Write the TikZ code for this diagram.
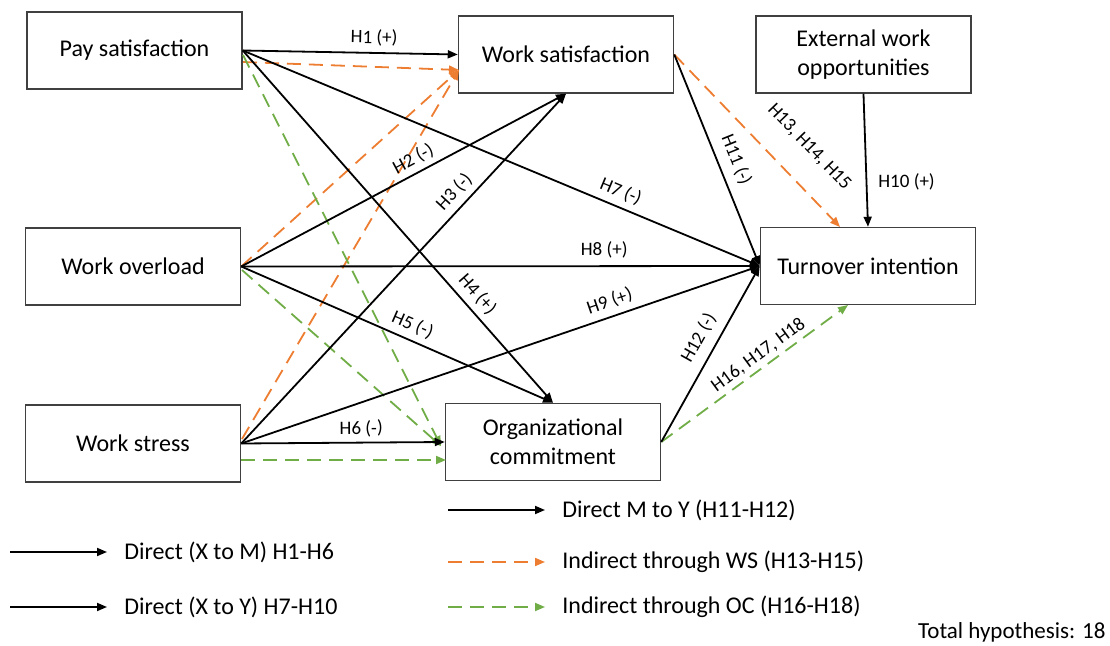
\documentclass[tikz,border=0pt]{standalone}
\usepackage{fontspec}
\setmainfont{Carlito}
\usepackage{xcolor}
\usetikzlibrary{arrows.meta}
\definecolor{wsorange}{RGB}{237,125,49}
\definecolor{ocgreen}{RGB}{112,173,71}
\tikzset{
  var/.style={draw=black!75, line width=0.75pt, minimum width=107.5pt, minimum height=38.5pt,
    align=center, font=\fontsize{12}{14.5}\selectfont},
  direct/.style={line width=0.9pt, -{Triangle[length=5pt,width=4pt]}},
  viaws/.style={wsorange, line width=0.9pt, dash pattern=on 7pt off 4pt, -{Triangle[length=5pt,width=4pt]}},
  viaoc/.style={ocgreen, line width=0.9pt, dash pattern=on 7pt off 4pt, -{Triangle[length=5pt,width=4pt]}},
  hyp/.style={font=\fontsize{9.5}{11}\selectfont, sloped, inner sep=1.5pt, text=black},
  legtext/.style={anchor=west, inner xsep=8.5pt, font=\fontsize{12}{14}\selectfont}
}
\begin{document}
\begin{tikzpicture}[x=0.5pt,y=-0.5pt]
            \useasboundingbox (0,0) rectangle (1110,646);
            \node[var] (pay) at (134.500, 50.500) {Pay satisfaction};
            \node[var] (wo) at (133.000, 266.500) {Work overload};
            \node[var] (stress) at (133.000, 443.500) {Work stress};
            \node[var] (wsat) at (566.000, 54.500) {Work satisfaction};
            \node[var] (oc) at (553.000, 442.000) {Organizational\\commitment};
            \node[var] (ext) at (863.500, 54.500) {External work\\opportunities};
            \node[var] (ti) at (868.000, 266.000) {Turnover intention};

            \coordinate (pay_o) at (243.000, 62.000);
            \coordinate (pay_g) at (243.000, 55.000);
            \coordinate (wo_g) at (242.000, 270.000);
            \coordinate (stress_o) at (242.000, 439.000);
            \coordinate (stress_g) at (241.000, 460.000);
            \coordinate (wsat_o) at (459.000, 70.000);
            \coordinate (oc_g) at (441.000, 446.000);
            \coordinate (oc_gh) at (446.000, 460.000);
            \coordinate (ti_o) at (840.000, 227.000);
            \coordinate (ti_g) at (848.000, 305.000);

            \draw[viaws] (pay_o) -- (wsat_o);
            \draw[viaws] (wo.east) -- (wsat_o);
            \draw[viaws] (stress_o) -- (wsat_o);
            \draw[viaws] (wsat.east) -- node[hyp, above=11pt, pos=0.67] {H13, H14, H15} (ti_o);
            \draw[viaoc] (pay_g) -- (oc_g);
            \draw[viaoc] (wo_g) -- (oc_g);
            \draw[viaoc] (stress_g) -- (oc_gh);
            \draw[viaoc] (oc.east) -- node[hyp, above=0.5pt, pos=0.56] {H16, H17, H18} (ti_g);

            \draw[direct] (pay.east) -- node[hyp, above=1.5pt, pos=0.61] {H1 (+)} (wsat.west);
            \draw[direct] (pay.east) -- node[hyp, above=1.5pt, pos=0.72] {H7 (-)} (ti.west);
            \draw[direct] (pay.east) -- node[hyp, above=1.5pt, pos=0.72] {H4 (+)} (oc.north);
            \draw[direct] (wo.east) -- node[hyp, above=1pt, pos=0.55] {H2 (-)} (wsat.south);
            \draw[direct] (wo.east) -- node[hyp, above=2pt, pos=0.70] {H8 (+)} (ti.west);
            \draw[direct] (wo.east) -- node[hyp, above=1.5pt, pos=0.53] {H5 (-)} (oc.north);
            \draw[direct] (stress.east) -- node[hyp, above=1.5pt, pos=0.69] {H3 (-)} (wsat.south);
            \draw[direct] (stress.east) -- node[hyp, above=1.5pt, pos=0.72] {H9 (+)} (ti.west);
            \draw[direct] (stress.east) -- node[hyp, above=1pt, pos=0.59] {H6 (-)} (oc.west);
            \draw[direct] (wsat.east) -- node[hyp, above=3pt, pos=0.53] {H11 (-)} (ti.west);
            \draw[direct] (ext.south) -- node[hyp, sloped=false, right=4pt, pos=0.66] {H10 (+)} (ti.north);
            \draw[direct] (oc.east) -- node[hyp, above=3pt, pos=0.54] {H12 (-)} (ti.west);

            \node[legtext] (leg_my) at (545.000, 510.000) {Direct M to Y (H11-H12)};
            \node[legtext] (leg_xm) at (107.000, 552.000) {Direct (X to M) H1-H6};
            \node[legtext] (leg_ws) at (545.000, 562.000) {Indirect through WS (H13-H15)};
            \node[legtext] (leg_xy) at (107.000, 607.000) {Direct (X to Y) H7-H10};
            \node[legtext] (leg_oc) at (545.000, 607.000) {Indirect through OC (H16-H18)};
            \node[anchor=east, inner sep=0pt, font=\fontsize{11.5}{13}\selectfont] (total) at (1106.000, 632.000) {Total hypothesis: 18};

            \coordinate (leg_my_s) at (448.000, 510.000);
            \coordinate (leg_xm_s) at (10.000, 552.000);
            \coordinate (leg_ws_s) at (448.000, 562.000);
            \coordinate (leg_xy_s) at (10.000, 607.000);
            \coordinate (leg_oc_s) at (448.000, 607.000);
            \draw[direct] (leg_my_s) -- (leg_my.west);
            \draw[direct] (leg_xm_s) -- (leg_xm.west);
            \draw[viaws] (leg_ws_s) -- (leg_ws.west);
            \draw[direct] (leg_xy_s) -- (leg_xy.west);
            \draw[viaoc] (leg_oc_s) -- (leg_oc.west);
        \end{tikzpicture}
\end{document}
